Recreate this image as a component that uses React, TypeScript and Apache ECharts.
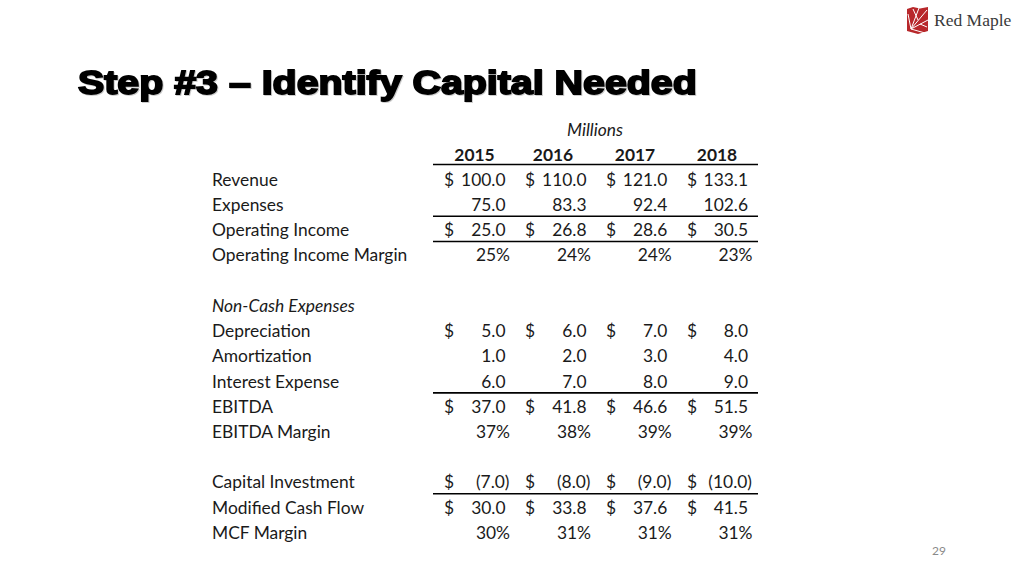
import React, { useEffect, useRef } from "react";
import * as echarts from "echarts";

const title = "Step #3 – Identify Capital Needed";
const unitLabel = "Millions";
const years = ["2015", "2016", "2017", "2018"];
const revenue = [100.0, 110.0, 121.0, 133.1];
const expenses = [75.0, 83.3, 92.4, 102.6];
const operatingIncome = [25.0, 26.8, 28.6, 30.5];
const operatingMargin = [25, 24, 24, 23];
const depreciation = [5.0, 6.0, 7.0, 8.0];
const amortization = [1.0, 2.0, 3.0, 4.0];
const interestExpense = [6.0, 7.0, 8.0, 9.0];
const ebitda = [37.0, 41.8, 46.6, 51.5];
const ebitdaMargin = [37, 38, 39, 39];
const capitalInvestment = [-7.0, -8.0, -9.0, -10.0];
const modifiedCashFlow = [30.0, 33.8, 37.6, 41.5];
const mcfMargin = [30, 31, 31, 31];
const pageNumber = "29";

type Row = { label: string; values?: number[]; kind: "dollar" | "plain" | "pct" | "italic" | "blank"; lineAbove?: boolean; lineBelow?: boolean };

const rows: Row[] = [
  { label: "Revenue", values: revenue, kind: "dollar" },
  { label: "Expenses", values: expenses, kind: "plain" },
  { label: "Operating Income", values: operatingIncome, kind: "dollar", lineAbove: true, lineBelow: true },
  { label: "Operating Income Margin", values: operatingMargin, kind: "pct" },
  { label: "", kind: "blank" },
  { label: "Non-Cash Expenses", kind: "italic" },
  { label: "Depreciation", values: depreciation, kind: "dollar" },
  { label: "Amortization", values: amortization, kind: "plain" },
  { label: "Interest Expense", values: interestExpense, kind: "plain" },
  { label: "EBITDA", values: ebitda, kind: "dollar", lineAbove: true },
  { label: "EBITDA Margin", values: ebitdaMargin, kind: "pct" },
  { label: "", kind: "blank" },
  { label: "Capital Investment", values: capitalInvestment, kind: "dollar" },
  { label: "Modified Cash Flow", values: modifiedCashFlow, kind: "dollar", lineAbove: true },
  { label: "MCF Margin", values: mcfMargin, kind: "pct" },
];

const FONT = "Lato, 'Noto Sans', sans-serif";
const TEXT = "#1a1a1a";

function txt(text: string, x: number, y: number, opts: any = {}) {
  const align = opts.align || "left";
  return {
    type: "text",
    x,
    y,
    silent: true,
    style: {
      text,
      fill: opts.fill || TEXT,
      fontSize: opts.fontSize || 16,
      fontFamily: opts.fontFamily || FONT,
      fontWeight: opts.fontWeight || "normal",
      fontStyle: opts.fontStyle || "normal",
      align,
      textAlign: align,
      verticalAlign: "middle",
      textVerticalAlign: "middle",
      ...(opts.extra || {}),
    },
    ...(opts.el || {}),
  };
}

function fmtNum(v: number) {
  return v < 0 ? "(" + Math.abs(v).toFixed(1) + ")" : v.toFixed(1);
}

export default function App() {
  const ref = useRef<HTMLDivElement>(null);
  useEffect(() => {
    if (!ref.current) return;
    const chart = echarts.init(ref.current, null, { renderer: "svg" });

    const labelX = 212;
    const headerY = 154;
    const rowH = 25.23;
    const dollarX = [444, 525, 606, 687];
    const numRight = [505.5, 586.5, 667.3, 748];
    const yearCenter = [474.5, 553, 635, 717];
    const lineX1 = 433;
    const lineX2 = 758;
    const fs = 17.4;

    const els: any[] = [];

    // title
    els.push(
      txt(title, 78, 83, {
        fontSize: 33.5,
        fontFamily: "'Liberation Sans', Arial, sans-serif",
        fontWeight: "bold",
        fill: "#000",
        extra: { stroke: "#000", lineWidth: 1.8, textShadowColor: "rgba(0,0,0,0.2)", textShadowOffsetX: 1, textShadowOffsetY: 1, textShadowBlur: 1 },
        el: { scaleX: 1.175 },
      })
    );

    // logo icon
    els.push({
      type: "polygon",
      silent: true,
      shape: { points: [[907, 9], [913, 7], [920, 8.5], [928, 7], [928, 31], [918, 34], [907, 31]] },
      style: { fill: "#b8282b" },
    });
    const spokes = [
      [911, 29, 927, 10],
      [911, 29, 919, 8],
      [911, 29, 908, 14],
      [911, 29, 928, 20],
      [911, 29, 925, 33],
      [918, 20, 913, 9],
      [920, 24, 927, 27],
    ];
    spokes.forEach((s) =>
      els.push({ type: "line", silent: true, shape: { x1: s[0], y1: s[1], x2: s[2], y2: s[3] }, style: { stroke: "#fff", lineWidth: 1 } })
    );
    els.push(txt("Red Maple", 934, 20, { fontSize: 17.5, fontFamily: "'Liberation Serif', 'DejaVu Serif', serif", fill: "#3a3a3a" }));

    // unit label
    els.push(txt(unitLabel, 595, 129, { fontSize: fs, fontStyle: "italic", align: "center" }));

    // year header
    years.forEach((yr, j) => els.push(txt(yr, yearCenter[j], headerY, { fontSize: fs, fontWeight: "bold", align: "center" })));
    els.push({ type: "line", silent: true, shape: { x1: lineX1, y1: 164.5, x2: lineX2, y2: 164.5 }, style: { stroke: "#000", lineWidth: 1.6 } });

    rows.forEach((r, i) => {
      const y = headerY + (i + 1) * rowH;
      if (r.kind === "blank") return;
      els.push(txt(r.label, labelX, y, { fontSize: fs, fontStyle: r.kind === "italic" ? "italic" : "normal" }));
      if (r.lineAbove) {
        const ly = y - rowH / 2 - 0.8;
        els.push({ type: "line", silent: true, shape: { x1: lineX1, y1: ly, x2: lineX2, y2: ly }, style: { stroke: "#000", lineWidth: 1.6 } });
      }
      if (r.lineBelow) {
        const ly = y + rowH / 2 - 0.8;
        els.push({ type: "line", silent: true, shape: { x1: lineX1, y1: ly, x2: lineX2, y2: ly }, style: { stroke: "#000", lineWidth: 1.6 } });
      }
      if (!r.values) return;
      r.values.forEach((v, j) => {
        if (r.kind === "pct") {
          els.push(txt(v + "%", numRight[j] + 4.5, y, { fontSize: fs, align: "right" }));
          return;
        }
        if (r.kind === "dollar") els.push(txt("$", dollarX[j], y, { fontSize: fs }));
        const s = fmtNum(v);
        els.push(txt(s, v < 0 ? numRight[j] + 4 : numRight[j], y, { fontSize: fs, align: "right" }));
      });
    });

    els.push(txt(pageNumber, 939, 550, { fontSize: 12, fill: "#8a8a8a", align: "center" }));

    chart.setOption({
      animation: false,
      backgroundColor: "#ffffff",
      graphic: { elements: els },
    });
    return () => chart.dispose();
  }, []);
  return <div ref={ref} style={{ position: "fixed", left: 0, top: 0, width: 1024, height: 576 }} />;
}
